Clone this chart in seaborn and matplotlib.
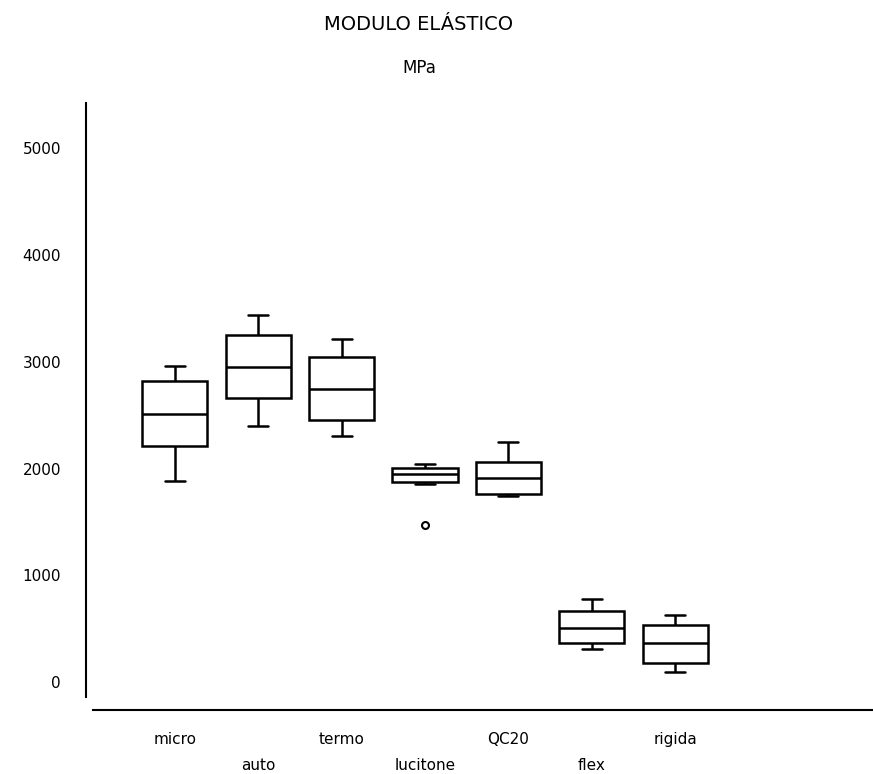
import numpy as np
import pandas as pd
import matplotlib
matplotlib.use("Agg")
import matplotlib.pyplot as plt
import seaborn as sns

# box statistics (MPa)
groups = ["micro", "auto", "termo", "lucitone", "QC20", "flex", "rigida"]
whisker_lo = [1884, 2399, 2306, 1856, 1743, 309, 94]
q1 = [2212, 2662, 2456, 1874, 1762, 365, 178]
median = [2512, 2952, 2746, 1949, 1912, 506, 365]
q3 = [2821, 3252, 3046, 2006, 2062, 665, 534]
whisker_hi = [2962, 3440, 3215, 2043, 2249, 778, 628]
outliers = {"lucitone": [1471]}
yticks = [0, 1000, 2000, 3000, 4000, 5000]


def sample_for(i, g):
    # values whose quartiles / whiskers reproduce the drawn box
    if g in outliers:
        pts = outliers[g] + [whisker_lo[i], q1[i], median[i], median[i],
                             median[i], q3[i], whisker_hi[i], whisker_hi[i]]
    else:
        pts = [whisker_lo[i], q1[i], median[i], q3[i], whisker_hi[i]]
    return pts


rows = []
for i, g in enumerate(groups):
    for v in sample_for(i, g):
        rows.append({"grupo": g, "MPa": v})
df = pd.DataFrame(rows)

sns.set_style("white")
plt.rcParams["font.family"] = ["DejaVu Sans"]
plt.rcParams["text.color"] = "black"
plt.rcParams["xtick.color"] = "black"
plt.rcParams["ytick.color"] = "black"

fig = plt.figure(figsize=(8.73, 7.74), dpi=100)
ax = fig.add_axes([93 / 873, 64 / 774, 780 / 873, (710 - 103) / 774])

sns.boxplot(data=df, x="grupo", y="MPa", order=groups, ax=ax,
            color="white", linecolor="black", linewidth=1.8, width=0.78,
            fliersize=5, whis=1.5,
            flierprops={"marker": "o", "markerfacecolor": "white",
                        "markeredgecolor": "black", "markeredgewidth": 1.5},
            capwidths=0.24)

ax.set_xlim(-0.98, 8.37)
ax.set_ylim(-262, 5426)
ax.set_xlabel("")
ax.set_ylabel("")

ax.spines["top"].set_visible(False)
ax.spines["right"].set_visible(False)
ax.spines["left"].set_position(("outward", 5))
ax.spines["left"].set_bounds(-141, 5426)
for s in ["left", "bottom"]:
    ax.spines[s].set_color("black")
    ax.spines[s].set_linewidth(1.5)

ax.set_yticks(yticks)
ax.set_yticklabels([str(t) for t in yticks])
ax.tick_params(axis="y", length=0, pad=18, labelsize=11)

ax.set_xticks(range(len(groups)))
ax.set_xticklabels([g if i % 2 == 0 else "\n" + g for i, g in enumerate(groups)])
ax.tick_params(axis="x", length=0, pad=16, labelsize=11)
for lbl in ax.get_xticklabels():
    lbl.set_linespacing(1.9)

fig.text(419 / 873, 1 - 25 / 774, "MODULO ELÁSTICO", ha="center", va="center", fontsize=14)
fig.text(419 / 873, 1 - 68 / 774, "MPa", ha="center", va="center", fontsize=12)

fig.savefig("out.png", dpi=100)
